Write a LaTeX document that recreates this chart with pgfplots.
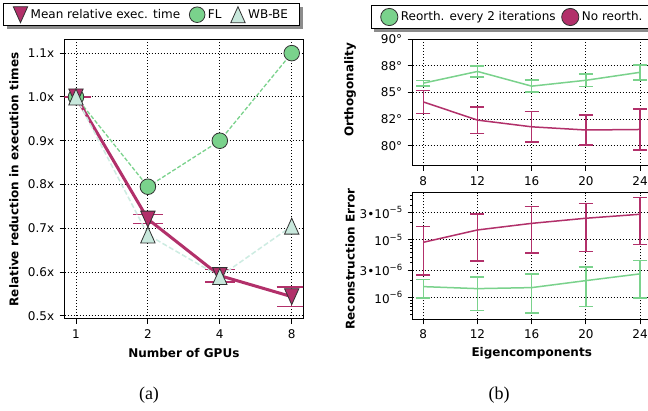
\documentclass[border=0pt]{standalone}
\usepackage{pgfplots}
\pgfplotsset{compat=1.18}
\usepackage{fontspec}
\setmainfont{DejaVu Sans}
\setsansfont{DejaVu Sans}
\newfontfamily\capfont{Liberation Serif}
\usetikzlibrary{shadows}

\definecolor{purp}{RGB}{178,48,106}
\definecolor{grn}{RGB}{122,210,140}
\definecolor{mint}{RGB}{200,232,220}
\definecolor{mintline}{RGB}{205,236,226}
\definecolor{edge}{RGB}{50,50,50}

% matplotlib-like triangles (centred on their bounding box)
\pgfdeclareplotmark{tridown}{%
  \pgfpathmoveto{\pgfqpoint{0pt}{-\pgfplotmarksize}}%
  \pgfpathlineto{\pgfqpoint{-0.9\pgfplotmarksize}{\pgfplotmarksize}}%
  \pgfpathlineto{\pgfqpoint{0.9\pgfplotmarksize}{\pgfplotmarksize}}%
  \pgfpathclose\pgfusepathqfillstroke}
\pgfdeclareplotmark{triup}{%
  \pgfpathmoveto{\pgfqpoint{0pt}{\pgfplotmarksize}}%
  \pgfpathlineto{\pgfqpoint{-0.9\pgfplotmarksize}{-\pgfplotmarksize}}%
  \pgfpathlineto{\pgfqpoint{0.9\pgfplotmarksize}{-\pgfplotmarksize}}%
  \pgfpathclose\pgfusepathqfillstroke}

\newcommand\sups[1]{\raisebox{0.45em}{\fontsize{8.5}{9}\selectfont #1}}

\pgfplotsset{
  base/.style={
    scale only axis,
    axis line style={black, line width=1pt},
    tick style={black, line width=0.9pt},
    major tick length=5pt, minor tick length=2.5pt,
    tick align=outside, xtick pos=bottom, ytick pos=left,
    grid=major, grid style={black, line width=0.9pt, dash pattern=on 1pt off 2pt},
    ticklabel style={font=\fontsize{12}{14}\selectfont},
    xticklabel style={yshift=-2pt},
    yticklabel style={xshift=-2pt},
    label style={font=\bfseries\fontsize{12}{14}\selectfont},
    /pgf/number format/assume math mode=true,
    legend cell align=left,
    legend style={draw=black, line width=0.8pt, fill=white,
      inner xsep=9.6pt, inner ysep=3pt,
      font=\fontsize{12}{14}\selectfont,
      drop shadow={shadow xshift=3pt, shadow yshift=-3pt, fill=black!45, opacity=1},
      nodes={inner sep=2pt},
      /tikz/every odd column/.append style={column sep=1pt}},
  },
}

\begin{document}
\begin{tikzpicture}
\path[fill=white] (0pt,0pt) rectangle (648pt,-411pt);

% ---------------- (a) ----------------
\begin{axis}[base,
  at={(64.7pt,-40pt)}, anchor=north west, width=238.3pt, height=279pt,
  xmin=-0.157, xmax=3.157, ymin=0.493, ymax=1.130,
  xtick={0,1,2,3}, xticklabels={1,2,4,8},
  ytick={0.5,0.6,0.7,0.8,0.9,1.0,1.1},
  yticklabels={0.5x,0.6x,0.7x,0.8x,0.9x,1.0x,1.1x},
  xlabel={Number of GPUs},
  ylabel={Relative reduction in execution times},
  xlabel style={at={(axis description cs:0.5,-0.1208)}, anchor=center},
  ylabel style={at={(axis description cs:-0.2128,0.5)}, anchor=center},
  legend columns=3,
  legend style={at={(axis description cs:-0.2577,1.1315)}, anchor=north west,
    /tikz/every even column/.append style={column sep=7.2pt}},
  legend image code/.code={\draw[#1] plot coordinates {(0pt,0pt)};},
]
\addlegendimage{draw=none, mark=tridown, mark size=8pt, mark options={fill=purp, draw=edge, line width=0.8pt}}
\addlegendentry{Mean relative exec. time}
\addlegendimage{draw=none, mark=*, mark size=7.8pt, mark options={fill=grn, draw=edge, line width=0.8pt}}
\addlegendentry{FL}
\addlegendimage{draw=none, mark=triup, mark size=8pt, mark options={fill=mint, draw=edge, line width=0.8pt}}
\addlegendentry{WB-BE\hspace{-5.3pt}}

% FL
\addplot[grn, line width=1.3pt, dash pattern=on 4pt off 2pt, mark=*, mark size=7.8pt,
  mark options={solid, fill=grn, draw=edge, line width=0.8pt}, forget plot]
  coordinates {(0,1.0) (1,0.795) (2,0.9) (3,1.1)};

% Mean relative exec. time
\addplot[purp, line width=3pt, mark=tridown, mark size=8pt,
  mark options={solid, fill=purp, draw=edge, line width=0.8pt}, forget plot,
  error bars/.cd, y dir=both, y explicit,
  error bar style={purp, line width=1.5pt},
  error mark options={purp, rotate=90, mark size=15pt, line width=1.5pt}]
  coordinates {
    (0,1.0) +- (0,0)
    (1,0.721) +- (0,0.0105)
    (2,0.592) +- (0,0.0145)
    (3,0.544) +- (0,0.0225)
  };

% WB-BE
\addplot[mintline, line width=1.5pt, dash pattern=on 5pt off 2.5pt, mark=triup, mark size=8pt,
  mark options={solid, fill=mint, draw=edge, line width=0.8pt}, forget plot]
  coordinates {(0,1.0) (1,0.685) (2,0.59) (3,0.705)};
\end{axis}

% ---------------- (b) top ----------------
\begin{axis}[base,
  at={(412.7pt,-39.3pt)}, anchor=north west, width=238pt, height=126.7pt,
  xmin=7.22, xmax=24.78, ymin=78.1, ymax=90,
  xtick={8,12,16,20,24},
  ytick={80,82.5,85,87.5,90},
  yticklabels={80°,82°,85°,88°,90°},
  ylabel={Orthogonality},
  ylabel style={at={(axis description cs:-0.263,0.6)}, anchor=center},
  legend columns=2,
  legend style={at={(axis description cs:-0.1765,1.2707)}, anchor=north west,
    /tikz/every even column/.append style={column sep=4pt}},
  legend image code/.code={\draw[#1] plot coordinates {(0pt,0pt)};},
]
\addlegendimage{draw=none, mark=*, mark size=8.6pt, mark options={fill=grn, draw=edge, line width=0.8pt}}
\addlegendentry{Reorth. every 2 iterations}
\addlegendimage{draw=none, mark=*, mark size=8.6pt, mark options={fill=purp, draw=edge, line width=0.8pt}}
\addlegendentry{No reorth.\hspace{40pt}}

\addplot[grn, line width=1.5pt, forget plot,
  error bars/.cd, y dir=both, y explicit,
  error bar style={grn, line width=1.3pt},
  error mark options={grn, rotate=90, mark size=7pt, line width=1.5pt}]
  coordinates {
    (8,85.88) +- (0,0.25)
    (12,86.98) +- (0,0.5)
    (16,85.6) +- (0,0.57)
    (20,86.15) +- (0,0.6)
    (24,86.9) +- (0,0.7)
  };
\addplot[purp, line width=1.5pt, forget plot,
  error bars/.cd, y dir=both, y explicit,
  error bar style={purp, line width=1.3pt},
  error mark options={purp, rotate=90, mark size=7pt, line width=1.5pt}]
  coordinates {
    (8,84.12) +- (0,1.07)
    (12,82.41) +- (0,1.25)
    (16,81.78) +- (0,1.42)
    (20,81.48) +- (0,1.42)
    (24,81.53) +- (0,1.92)
  };
\end{axis}

% ---------------- (b) bottom ----------------
\begin{axis}[base,
  at={(412.7pt,-192.7pt)}, anchor=north west, width=238pt, height=126.6pt,
  xmin=7.22, xmax=24.78,
  ymode=log, ymin=4.2e-7, ymax=6.6e-5,
  xtick={8,12,16,20,24},
  ytick={1e-6,3e-6,1e-5,3e-5},
  yticklabels={10\sups{−6},3•10\sups{−6},10\sups{−5},3•10\sups{−5}},
  minor ytick={5e-7,6e-7,7e-7,8e-7,9e-7,2e-6,4e-6,5e-6,6e-6,7e-6,8e-6,9e-6,2e-5,4e-5,5e-5,6e-5},
  xlabel={Eigencomponents},
  ylabel={Reconstruction Error},
  xlabel style={at={(axis description cs:0.5,-0.266)}, anchor=center},
  ylabel style={at={(axis description cs:-0.263,0.476)}, anchor=center},
]
\addplot[purp, line width=1.5pt,
  error bars/.cd, y dir=both, y explicit,
  error bar style={purp, line width=1.3pt},
  error mark options={purp, rotate=90, mark size=7pt, line width=1.5pt}]
  coordinates {
    (8,9.1e-6) += (0,7.9e-6) -= (0,6.62e-6)
    (12,1.49e-5) += (0,1.34e-5) -= (0,1.062e-5)
    (16,1.94e-5) += (0,1.83e-5) -= (0,1.35e-5)
    (20,2.38e-5) += (0,1.92e-5) -= (0,1.753e-5)
    (24,2.79e-5) += (0,2.61e-5) -= (0,1.95e-5)
  };
\addplot[grn, line width=1.5pt,
  error bars/.cd, y dir=both, y explicit,
  error bar style={grn, line width=1.3pt},
  error mark options={grn, rotate=90, mark size=7pt, line width=1.5pt}]
  coordinates {
    (8,1.55e-6) += (0,0.53e-6) -= (0,0.57e-6)
    (12,1.43e-6) += (0,0.86e-6) -= (0,0.835e-6)
    (16,1.49e-6) += (0,1.09e-6) -= (0,0.953e-6)
    (20,1.97e-6) += (0,1.4e-6) -= (0,1.272e-6)
    (24,2.58e-6) += (0,1.8e-6) -= (0,1.6e-6)
  };
\end{axis}

\node[font=\capfont\fontsize{18}{20}\selectfont] at (149pt,-395pt) {(a)};
\node[font=\capfont\fontsize{18}{20}\selectfont] at (499pt,-395pt) {(b)};

\pgfresetboundingbox
\path[use as bounding box] (0pt,0pt) rectangle (648pt,-411pt);
\end{tikzpicture}
\end{document}
